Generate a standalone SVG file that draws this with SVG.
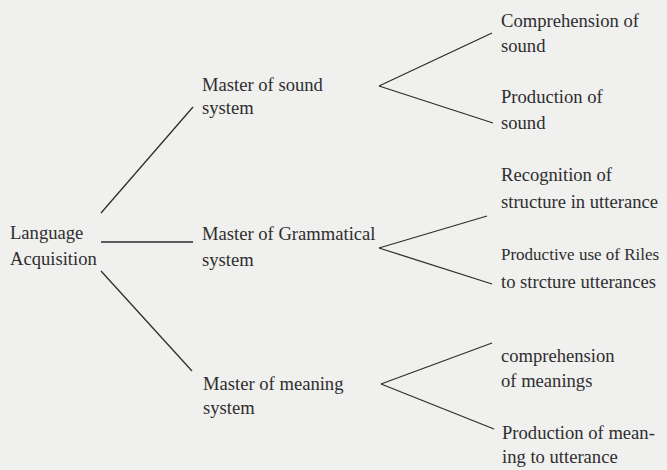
<svg xmlns="http://www.w3.org/2000/svg" width="667" height="470" viewBox="0 0 667 470">
<style>
text{font-family:"Liberation Serif","DejaVu Serif",serif;font-size:18.6px;fill:#2e2e2e}
.c line{stroke:#2e2e2e;stroke-width:1.3;fill:none}
</style>
<rect width="667" height="470" fill="#f0f0ee"/>
<g class="c" id="connectors">
<line x1="101" y1="213" x2="193" y2="107"/>
<line x1="101" y1="242" x2="193" y2="242"/>
<line x1="101" y1="271" x2="192" y2="371"/>
<line x1="379" y1="86" x2="492" y2="33"/>
<line x1="379" y1="86" x2="493" y2="123"/>
<line x1="379" y1="248" x2="487" y2="216"/>
<line x1="379" y1="248" x2="492" y2="284"/>
<line x1="381" y1="384" x2="492" y2="343"/>
<line x1="381" y1="384" x2="494" y2="429"/>
</g>
<g id="root"><text x="10" y="239">Language</text><text x="10" y="265">Acquisition</text></g>
<g id="sound"><text x="202" y="91">Master of sound</text><text x="202" y="114">system</text></g>
<g id="grammar"><text x="202" y="240">Master of Grammatical</text><text x="202" y="266">system</text></g>
<g id="meaning"><text x="203" y="390">Master of meaning</text><text x="203" y="414">system</text></g>
<g id="comp-sound"><text x="501" y="27">Comprehension of</text><text x="501" y="52">sound</text></g>
<g id="prod-sound"><text x="501" y="103">Production of</text><text x="501" y="129">sound</text></g>
<g id="recog"><text x="501" y="181">Recognition of</text><text x="501" y="208">structure in utterance</text></g>
<g id="productive"><text x="501" y="260" style="font-size:17px">Productive use of Riles</text><text x="501" y="288">to strcture utterances</text></g>
<g id="comp-meaning"><text x="501" y="362">comprehension</text><text x="501" y="387">of meanings</text></g>
<g id="prod-meaning"><text x="502" y="439">Production of mean-</text><text x="502" y="463">ing to utterance</text></g>
</svg>
